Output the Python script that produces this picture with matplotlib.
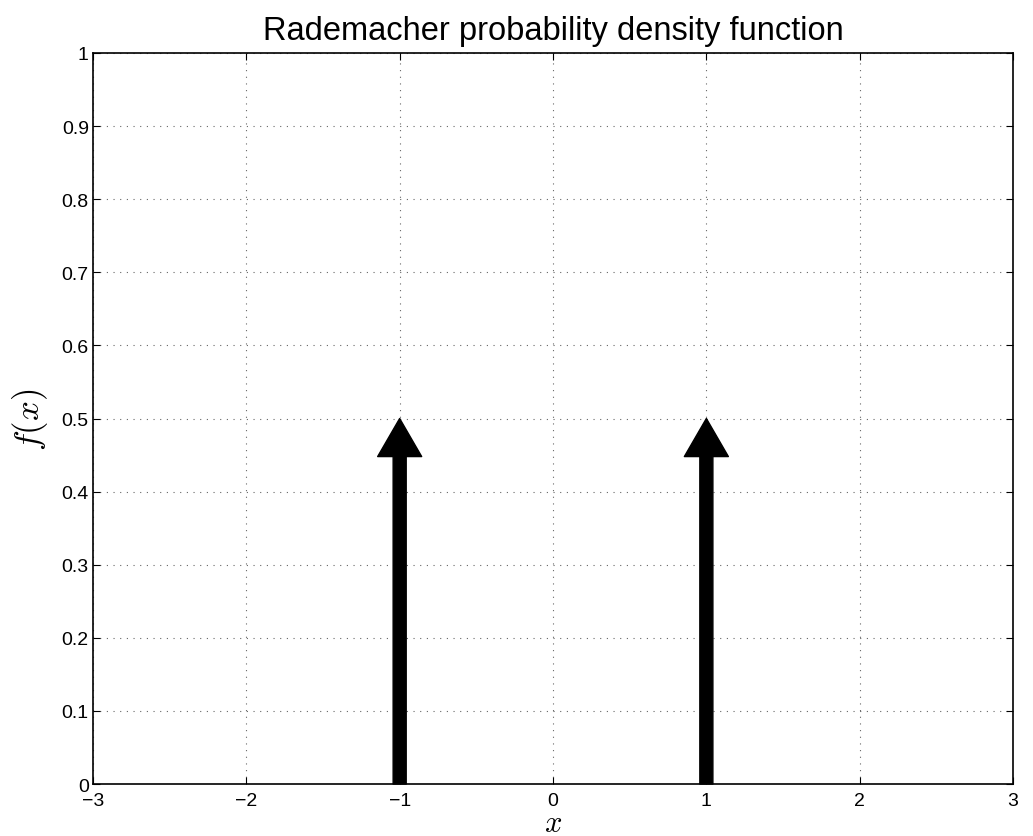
import matplotlib
matplotlib.use("Agg")
import matplotlib.pyplot as plt

# point masses of the Rademacher distribution
support = [-1, 1]
probs = [0.5, 0.5]

x_ticks = [-3, -2, -1, 0, 1, 2, 3]
y_ticks = [0, 0.1, 0.2, 0.3, 0.4, 0.5, 0.6, 0.7, 0.8, 0.9, 1]
y_tick_labels = ["0", "0.1", "0.2", "0.3", "0.4", "0.5", "0.6", "0.7", "0.8", "0.9", "1"]

plt.rcParams["font.family"] = ["Liberation Sans", "DejaVu Sans"]
plt.rcParams["mathtext.fontset"] = "cm"

fig = plt.figure(figsize=(10.33, 8.37), dpi=100)
ax = fig.add_axes([0.090, 0.0621, 0.8907, 0.8734])

for xv, pv in zip(support, probs):
    ax.annotate(
        "",
        xy=(xv, pv),
        xytext=(xv, 0),
        arrowprops=dict(
            arrowstyle="simple,tail_width=9.4,head_width=31.7,head_length=27.4",
            mutation_scale=1,
            color="black",
            shrinkA=0,
            shrinkB=0,
        ),
        zorder=3,
    )

ax.set_xlim(-3, 3)
ax.set_ylim(0, 1)
ax.set_xticks(x_ticks)
ax.set_xticklabels([str(t).replace("-", "\u2212") for t in x_ticks])
ax.set_yticks(y_ticks)
ax.set_yticklabels(y_tick_labels)
ax.tick_params(direction="in", length=5, labelsize=14, top=True, right=True)
ax.tick_params(axis="x", pad=6)
ax.tick_params(axis="y", pad=3)
ax.grid(True, linestyle=(0, (1, 5)), color="black", linewidth=0.8, alpha=0.6)
for spine in ax.spines.values():
    spine.set_linewidth(1.2)

ax.set_title("Rademacher probability density function", fontsize=23.5, pad=10)
ax.set_xlabel("$x$", fontsize=22, labelpad=-1)
ax.set_ylabel("$f(x)$", fontsize=25, labelpad=8)

fig.savefig("out.png", dpi=100)
